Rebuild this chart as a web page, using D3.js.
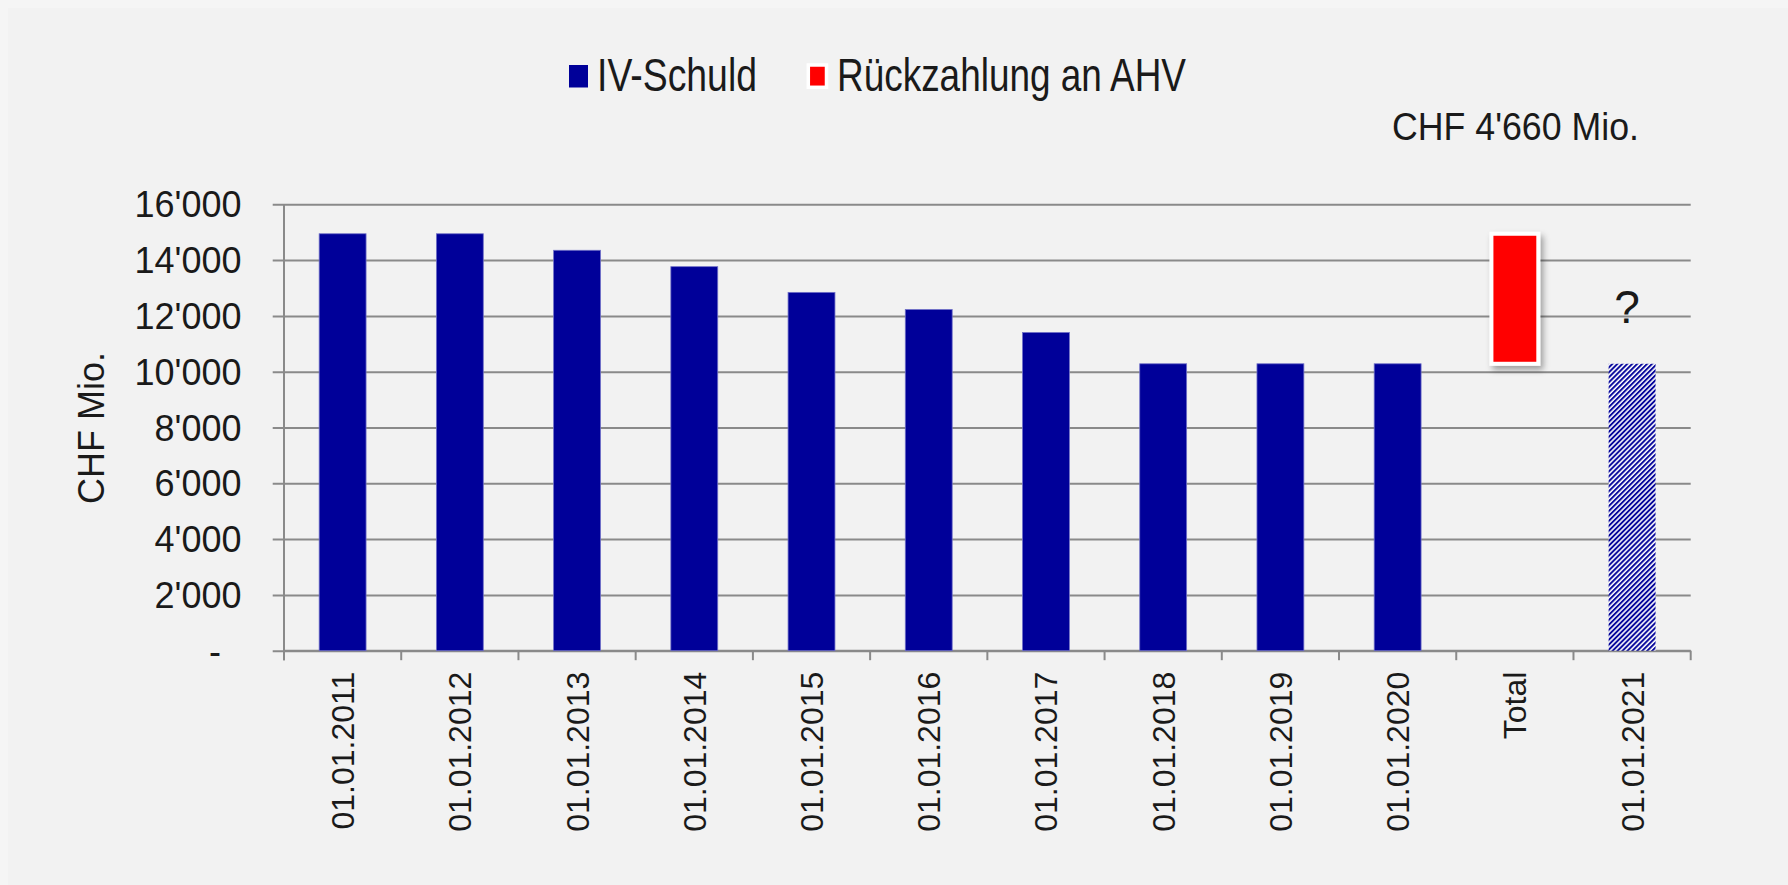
<!DOCTYPE html>
<html lang="de">
<head>
  <meta charset="UTF-8">
  <title>IV-Schuld</title>
  <script src="https://d3js.org/d3.v7.min.js"></script>
  <style>
    html, body { margin: 0; padding: 0; background: #f5f5f5; }
    svg { display: block; }
    text { font-family: "Liberation Sans", Arial, sans-serif; fill: #1a1a1a; }
  </style>
</head>
<body>
  <script>
    // Daten
    const categories = ["01.01.2011", "01.01.2012", "01.01.2013", "01.01.2014", "01.01.2015",
      "01.01.2016", "01.01.2017", "01.01.2018", "01.01.2019", "01.01.2020", "Total", "01.01.2021"];
    const ivSchuld = [14944, 14944, 14352, 13765, 12843, 12229, 11406, 10284, 10284, 10284, null, null];
    const rueckzahlungBasis = [null, null, null, null, null, null, null, null, null, null, 10284, null];
    const rueckzahlung = [null, null, null, null, null, null, null, null, null, null, 4660, null];
    const schuld2021 = [null, null, null, null, null, null, null, null, null, null, null, 10284];
    const yTicks = [0, 2000, 4000, 6000, 8000, 10000, 12000, 14000, 16000];
    const legendLabels = ["IV-Schuld", "Rückzahlung an AHV"];
    const annotation = "CHF 4'660 Mio.";
    const yTitle = "CHF Mio.";

    const width = 1788;
    const height = 885;
    const plotLeft = 284, plotRight = 1690.7, plotTop = 204.3, plotBottom = 650.7;
    const blue = "#000099", red = "#ff0000", grid = "#8a8a8a";

    const svg = d3.select("body").append("svg")
      .attr("width", width)
      .attr("height", height);

    // Hintergrund
    svg.append("rect")
      .attr("x", 8).attr("y", 8)
      .attr("width", width - 8).attr("height", height - 8)
      .attr("fill", "#f2f2f2");

    const defs = svg.append("defs");
    const hatch = defs.append("pattern")
      .attr("id", "hatch")
      .attr("patternUnits", "userSpaceOnUse")
      .attr("width", 3.5).attr("height", 3.5)
      .attr("patternTransform", "rotate(45)");
    hatch.append("rect").attr("width", 3.5).attr("height", 3.5).attr("fill", "#ffffff");
    hatch.append("line")
      .attr("x1", 1).attr("y1", 0).attr("x2", 1).attr("y2", 3.5)
      .attr("stroke", blue).attr("stroke-width", 1.9);

    defs.append("filter")
      .attr("id", "shadow")
      .attr("x", "-50%").attr("y", "-50%").attr("width", "200%").attr("height", "200%")
      .append("feDropShadow")
      .attr("dx", 3).attr("dy", 4).attr("stdDeviation", 3)
      .attr("flood-color", "#000").attr("flood-opacity", 0.35);

    // Skalen
    const x = d3.scaleBand()
      .domain(categories)
      .range([plotLeft, plotRight])
      .paddingInner(0.6)
      .paddingOuter(0.3);

    const y = d3.scaleLinear()
      .domain([0, 16000])
      .range([plotBottom, plotTop]);

    const fmt = d3.formatLocale({ decimal: ".", thousands: "'", grouping: [3], currency: ["", ""] }).format(",");

    // Y-Achse mit Gitterlinien
    const yAxis = svg.append("g")
      .attr("transform", `translate(${plotLeft},0)`)
      .call(d3.axisLeft(y).tickValues(yTicks).tickSizeOuter(0).tickSizeInner(0).tickPadding(0)
        .tickFormat(d => d === 0 ? "-" : fmt(d)));
    yAxis.select(".domain").remove();
    yAxis.selectAll(".tick line")
      .attr("x1", -11.3).attr("x2", plotRight - plotLeft)
      .attr("stroke", grid).attr("stroke-width", 2);
    yAxis.selectAll(".tick text")
      .attr("x", d => d === 0 ? -63 : -42.5)
      .attr("dy", "0.35em")
      .attr("font-size", 36)
      .attr("fill", "#1a1a1a");

    // vertikale Achsenlinie
    svg.append("line")
      .attr("x1", plotLeft).attr("x2", plotLeft)
      .attr("y1", plotTop).attr("y2", plotBottom + 9.5)
      .attr("stroke", grid).attr("stroke-width", 2);

    // X-Achse
    const xAxis = svg.append("g")
      .attr("transform", `translate(0,${plotBottom})`)
      .call(d3.axisBottom(x).tickSize(0).tickSizeOuter(0));
    xAxis.select(".domain")
      .attr("d", `M${plotLeft},0H${plotRight}`)
      .attr("stroke", grid).attr("stroke-width", 2);
    xAxis.selectAll(".tick text")
      .attr("transform", "translate(11.5,21) rotate(-90)")
      .attr("text-anchor", "end")
      .attr("x", 0).attr("y", 0).attr("dy", 0)
      .attr("font-size", 32)
      .attr("fill", "#1a1a1a");

    // Trennstriche zwischen Kategorien
    const boundaries = d3.range(categories.length + 1).map(i => plotLeft + i * x.step());
    svg.append("g").selectAll("line")
      .data(boundaries)
      .join("line")
      .attr("x1", d => d).attr("x2", d => d)
      .attr("y1", plotBottom).attr("y2", plotBottom + 9.5)
      .attr("stroke", grid).attr("stroke-width", 2);

    // Balken IV-Schuld
    const idx = d3.range(categories.length);
    svg.append("g").selectAll("rect")
      .data(idx.filter(i => ivSchuld[i] != null))
      .join("rect")
      .attr("x", i => x(categories[i]))
      .attr("y", i => y(ivSchuld[i]))
      .attr("width", x.bandwidth())
      .attr("height", i => y(0) - y(ivSchuld[i]))
      .attr("fill", blue)
      .attr("stroke", "#7070c8")
      .attr("stroke-width", 0.8);

    // Rückzahlung an AHV (schwebender Balken)
    svg.append("g").selectAll("rect")
      .data(idx.filter(i => rueckzahlung[i] != null))
      .join("rect")
      .attr("x", i => x(categories[i]))
      .attr("y", i => y(rueckzahlungBasis[i] + rueckzahlung[i]))
      .attr("width", x.bandwidth())
      .attr("height", i => y(rueckzahlungBasis[i]) - y(rueckzahlungBasis[i] + rueckzahlung[i]))
      .attr("fill", red)
      .attr("stroke", "#ffffff")
      .attr("stroke-width", 4)
      .attr("filter", "url(#shadow)");

    // IV-Schuld 2021 (schraffiert)
    svg.append("g").selectAll("rect")
      .data(idx.filter(i => schuld2021[i] != null))
      .join("rect")
      .attr("x", i => x(categories[i]))
      .attr("y", i => y(schuld2021[i]))
      .attr("width", x.bandwidth())
      .attr("height", i => y(0) - y(schuld2021[i]))
      .attr("fill", "url(#hatch)");

    // Fragezeichen
    const last = categories.length - 1;
    svg.append("text")
      .attr("x", x(categories[last]) + x.bandwidth() / 2 - 5)
      .attr("y", 323)
      .attr("text-anchor", "middle")
      .attr("font-size", 46)
      .text("?");

    // Y-Titel
    svg.append("text")
      .attr("transform", "translate(104,428) rotate(-90)")
      .attr("text-anchor", "middle")
      .attr("font-size", 36)
      .text(yTitle);

    // Annotation
    svg.append("text")
      .attr("x", 1392)
      .attr("y", 140)
      .attr("font-size", 38)
      .attr("textLength", 247)
      .attr("lengthAdjust", "spacingAndGlyphs")
      .text(annotation);

    // Legende
    const legend = svg.append("g");
    legend.append("rect")
      .attr("x", 569).attr("y", 65).attr("width", 19).attr("height", 22.5)
      .attr("fill", blue);
    legend.append("text")
      .attr("x", 597).attr("y", 90.5)
      .attr("font-size", 47)
      .attr("textLength", 160)
      .attr("lengthAdjust", "spacingAndGlyphs")
      .text(legendLabels[0]);
    legend.append("rect")
      .attr("x", 808.3).attr("y", 65).attr("width", 18.2).attr("height", 22.3)
      .attr("fill", red)
      .attr("stroke", "#ffffff").attr("stroke-width", 3.5);
    legend.append("text")
      .attr("x", 837).attr("y", 90.5)
      .attr("font-size", 47)
      .attr("textLength", 349)
      .attr("lengthAdjust", "spacingAndGlyphs")
      .text(legendLabels[1]);
  </script>
</body>
</html>
